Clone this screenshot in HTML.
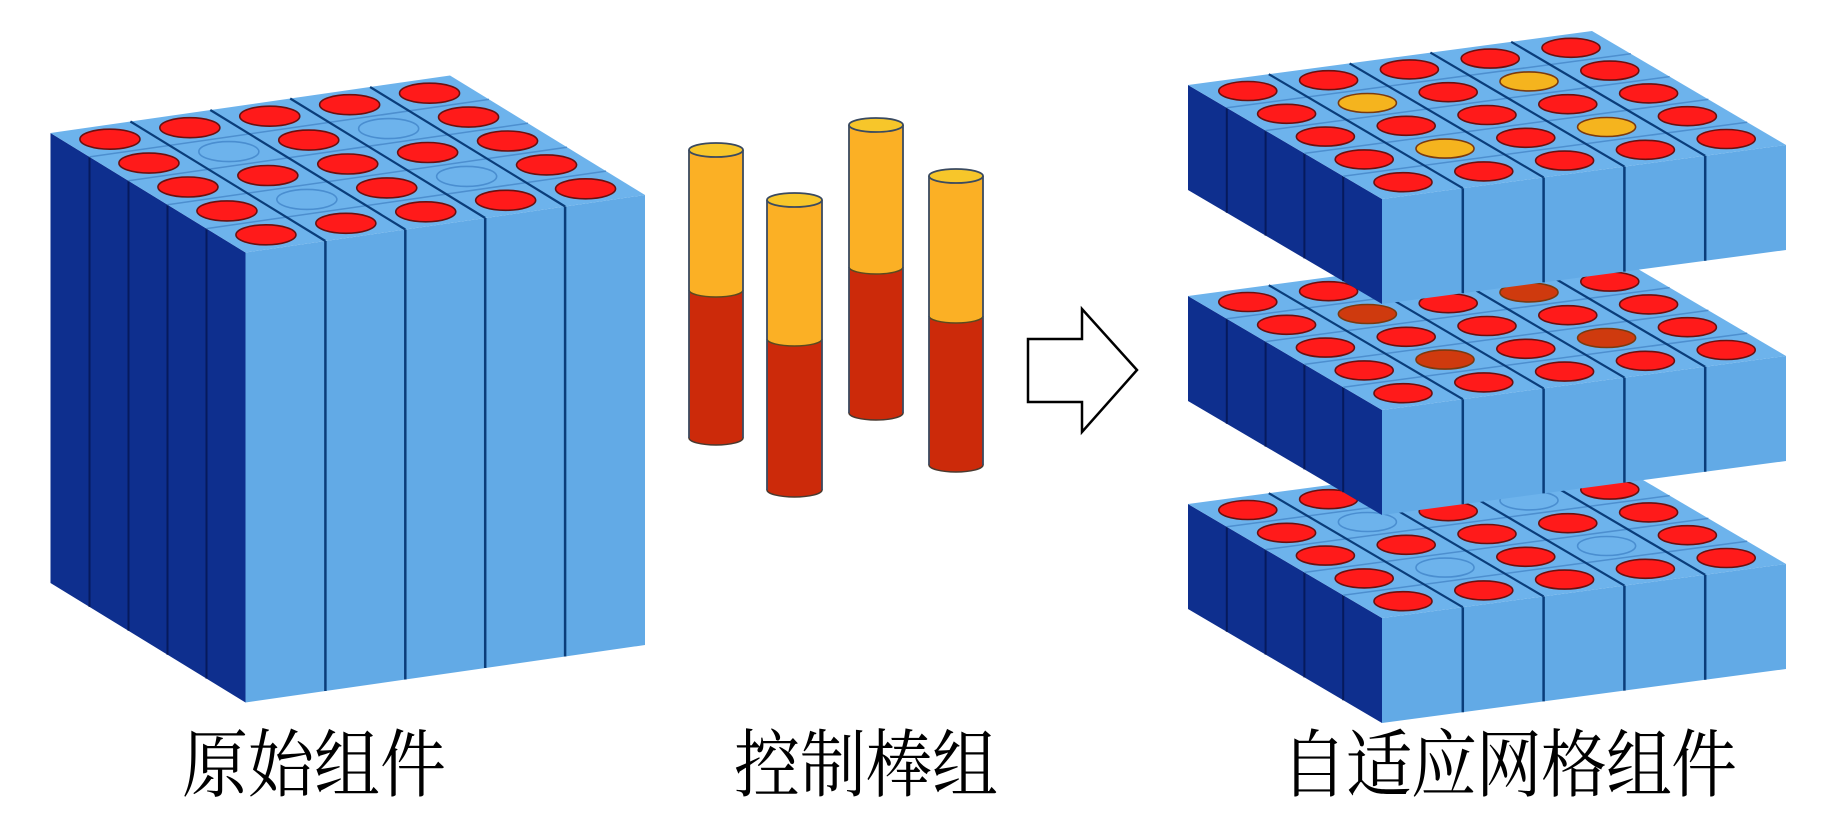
<!DOCTYPE html>
<html><head><meta charset="utf-8">
<style>
html,body{margin:0;padding:0;background:#fff;}
#wrap{position:relative;width:1843px;height:827px;overflow:hidden;}
svg{position:absolute;left:0;top:0;}
.lab{position:absolute;top:722px;font-family:"Liberation Serif","Noto Serif CJK SC",serif;font-size:66px;line-height:80px;color:#000;white-space:nowrap;transform-origin:left top;transform:scaleY(1.12);}
</style></head>
<body>
<div id="wrap">
<svg id="s" width="1843" height="827" viewBox="0 0 1843 827" xmlns="http://www.w3.org/2000/svg">
<g id="g"></g>
<polygon points="1028,339 1082,339 1082,309 1137,370 1082,432 1082,402 1028,402" fill="#fff" stroke="#000" stroke-width="2.5"/>
</svg>
<div class="lab" style="left:182px;">原始组件</div>
<div class="lab" style="left:734px;">控制棒组</div>
<div class="lab" style="left:1281px;letter-spacing:-1px;">自适应网格组件</div>
</div>
<script>
var g=document.getElementById('g');var NS='http://www.w3.org/2000/svg';
function el(t,a){var e=document.createElementNS(NS,t);for(var k in a)e.setAttribute(k,a[k]);g.appendChild(e);return e;}
function pts(a){return a.map(function(p){return p[0].toFixed(1)+','+p[1].toFixed(1)}).join(' ');}
function block(L,d,w,H,rx,ry,special){
  var F=[L[0]+5*d[0],L[1]+5*d[1]],R=[F[0]+5*w[0],F[1]+5*w[1]];
  el('polygon',{points:pts([L,F,[F[0],F[1]+H],[L[0],L[1]+H]]),fill:'#0e2f8e'});
  for(var k=1;k<5;k++){var x=L[0]+k*d[0],y=L[1]+k*d[1];el('line',{x1:x,y1:y,x2:x,y2:y+H,stroke:'#061a5c','stroke-width':2});}
  el('polygon',{points:pts([F,R,[R[0],R[1]+H],[F[0],F[1]+H]]),fill:'#62aae6'});
  for(var k=1;k<5;k++){var x=F[0]+k*w[0],y=F[1]+k*w[1];el('line',{x1:x,y1:y,x2:x,y2:y+H,stroke:'#0a3d7a','stroke-width':2.5});}
  var B=[L[0]+5*w[0],L[1]+5*w[1]];
  el('polygon',{points:pts([L,F,R,B]),fill:'#6db3ec'});
  for(var k=1;k<5;k++){var a=[L[0]+k*d[0],L[1]+k*d[1]];el('line',{x1:a[0],y1:a[1],x2:a[0]+5*w[0],y2:a[1]+5*w[1],stroke:'#4d8fcf','stroke-width':1.5});}
  for(var k=1;k<5;k++){var a=[L[0]+k*w[0],L[1]+k*w[1]];el('line',{x1:a[0],y1:a[1],x2:a[0]+5*d[0],y2:a[1]+5*d[1],stroke:'#0a3d7a','stroke-width':2.2});}
  for(var i=0;i<5;i++)for(var j=0;j<5;j++){
    var cx=L[0]+(i+.5)*d[0]+(j+.5)*w[0],cy=L[1]+(i+.5)*d[1]+(j+.5)*w[1];
    var sp=(i==1||i==3)&&(j==1||j==3);
    var f='#ff1a1a',s='#6a1010';
    if(sp){ if(special=='empty'){f='#6db3ec';s='#4a8ed0';} else {f=special;s='#7a3a10';} }
    el('ellipse',{cx:cx,cy:cy,rx:rx,ry:ry,fill:f,stroke:s,'stroke-width':1.6});
  }
}
block([50.5,133],[39,23.9],[79.9,-11.5],450,30,10,'empty');
block([1188,504],[38.8,22.8],[80.8,-10.8],105,29,9.5,'empty');
block([1188,296],[38.8,22.8],[80.8,-10.8],105,29,9.5,'#cf3a0e');
block([1188,85],[38.8,22.8],[80.8,-10.8],105,29,9.5,'#f5b41e');
function rod(x0,x1,top,mid,bot){
  var cx=(x0+x1)/2,rx=(x1-x0)/2,ry=7;
  el('ellipse',{cx:cx,cy:bot,rx:rx,ry:ry,fill:'#cc2a0a',stroke:'#4a3a30','stroke-width':1.5});
  el('rect',{x:x0,y:mid,width:x1-x0,height:bot-mid,fill:'#cc2a0a'});
  el('rect',{x:x0,y:top,width:x1-x0,height:mid-top,fill:'#fbb025'});
  el('path',{d:'M'+x0+','+mid+' A'+rx+','+ry+' 0 0 0 '+x1+','+mid,fill:'#fbb025',stroke:'#5a4a20','stroke-width':1.5});
  el('line',{x1:x0,y1:top,x2:x0,y2:bot,stroke:'#3a4a60','stroke-width':1.8});
  el('line',{x1:x1,y1:top,x2:x1,y2:bot,stroke:'#3a4a60','stroke-width':1.8});
  el('ellipse',{cx:cx,cy:top,rx:rx,ry:ry,fill:'#f7c62a',stroke:'#3a4a60','stroke-width':1.8});
}
rod(689,743,150,290,438);
rod(767,822,200,339,490);
rod(849,903,125,267,413);
rod(929,983,176,316,465);
</script>
</body></html>
